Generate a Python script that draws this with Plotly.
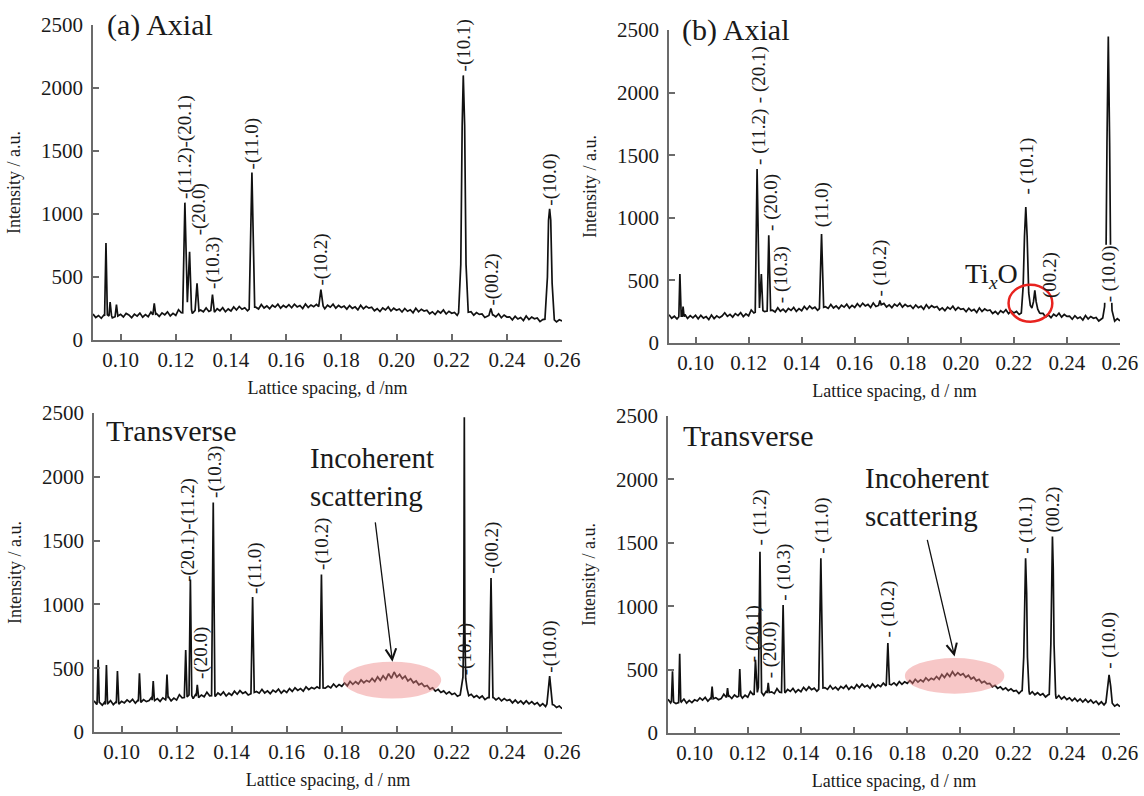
import numpy as np
import plotly.graph_objects as go

# ---------------- data ----------------
# background sampling grid (lattice spacing, nm)
D_GRID = np.round(0.090 + 0.001 * np.arange(171), 3)

BG_A = [206, 178, 194, 172, 200, 184, 208, 176, 198, 180, 204,
        183, 211, 199, 177, 205, 189, 213, 181, 201, 185,
        221, 193, 209, 187, 215, 199, 223, 191, 211, 195,
        240, 216, 244, 222, 234, 210, 246, 218, 238, 224,
        254, 226, 242, 220, 248, 232, 256, 224, 246, 230,
        262, 238, 266, 244, 256, 232, 268, 240, 260, 246,
        282, 254, 270, 248, 276, 260, 284, 252, 274, 258,
        280, 256, 284, 262, 274, 250, 286, 258, 278, 264,
        282, 254, 270, 248, 276, 260, 284, 252, 274, 258,
        269, 245, 273, 251, 263, 239, 275, 247, 267, 253,
        260, 232, 248, 226, 254, 238, 262, 230, 252, 236,
        246, 222, 250, 228, 240, 216, 252, 224, 244, 230,
        236, 208, 224, 202, 230, 214, 238, 206, 228, 212,
        219, 195, 223, 201, 213, 189, 225, 197, 217, 203,
        206, 178, 194, 172, 200, 184, 208, 176, 198, 182,
        184, 160, 188, 166, 178, 154, 190, 162, 182, 168,
        174, 146, 162, 140, 168, 152, 176, 144, 160, 150]

BG_B = [226, 198, 214, 192, 220, 204, 228, 196, 218, 200, 222,
        193, 221, 199, 211, 187, 223, 195, 217, 201, 215,
        241, 213, 229, 207, 235, 219, 243, 211, 233, 217,
        264, 240, 268, 246, 258, 234, 270, 242, 262, 248,
        282, 254, 270, 248, 276, 260, 284, 252, 274, 258,
        292, 268, 296, 274, 286, 262, 298, 270, 290, 276,
        308, 280, 296, 274, 302, 286, 310, 278, 300, 284,
        314, 290, 318, 296, 308, 284, 320, 292, 312, 298,
        316, 288, 304, 282, 310, 294, 318, 286, 308, 292,
        300, 276, 304, 282, 294, 270, 306, 278, 298, 284,
        292, 264, 280, 258, 286, 270, 294, 262, 284, 268,
        274, 250, 278, 256, 268, 244, 280, 252, 272, 258,
        264, 236, 252, 230, 258, 242, 266, 234, 256, 240,
        252, 228, 256, 234, 246, 222, 258, 230, 250, 236,
        236, 208, 224, 202, 230, 214, 238, 206, 228, 212,
        214, 190, 218, 196, 208, 184, 220, 192, 212, 198,
        204, 176, 192, 170, 198, 182, 206, 174, 194, 176]

BG_C = [244, 216, 232, 210, 238, 222, 246, 214, 236, 218, 240,
        228, 252, 234, 256, 226, 250, 232, 254, 238, 246,
        274, 246, 262, 240, 268, 252, 276, 244, 266, 250,
        292, 268, 296, 274, 286, 262, 298, 270, 290, 276,
        312, 284, 300, 278, 306, 290, 314, 282, 304, 288,
        320, 296, 324, 302, 314, 290, 326, 298, 318, 304,
        334, 306, 322, 300, 328, 312, 336, 304, 326, 310,
        340, 318, 346, 326, 340, 320, 354, 332, 348, 338,
        354, 336, 366, 344, 360, 346, 376, 352, 372, 358,
        384, 362, 396, 374, 394, 376, 408, 386, 404, 392,
        420, 396, 432, 404, 440, 412, 458, 420, 470, 430,
        452, 418, 438, 400, 418, 386, 400, 370, 382, 356,
        364, 336, 346, 320, 334, 310, 322, 298, 314, 294,
        304, 280, 300, 276, 292, 268, 296, 272, 286, 266,
        282, 254, 270, 248, 272, 252, 268, 244, 262, 246,
        254, 228, 250, 226, 244, 220, 244, 220, 238, 216,
        230, 204, 222, 200, 218, 196, 212, 192, 204, 182]

BG_D = [266, 238, 254, 232, 260, 244, 268, 236, 258, 240, 262,
        253, 277, 259, 281, 251, 275, 257, 279, 263, 271,
        306, 278, 294, 272, 300, 284, 308, 276, 298, 282,
        327, 303, 331, 309, 321, 297, 333, 305, 325, 311,
        350, 322, 338, 316, 344, 328, 352, 320, 342, 326,
        360, 336, 364, 342, 354, 330, 366, 338, 358, 344,
        374, 346, 362, 340, 368, 352, 376, 344, 366, 350,
        382, 358, 386, 364, 376, 352, 388, 360, 380, 366,
        394, 372, 400, 380, 396, 376, 406, 384, 404, 392,
        414, 392, 424, 402, 420, 404, 436, 414, 432, 420,
        446, 424, 462, 438, 470, 446, 484, 452, 476, 456,
        468, 440, 456, 426, 440, 412, 424, 396, 408, 388,
        392, 364, 376, 352, 364, 342, 356, 334, 348, 330,
        336, 312, 334, 310, 326, 304, 326, 302, 318, 298,
        310, 284, 302, 278, 298, 272, 296, 268, 286, 264,
        278, 254, 274, 250, 268, 244, 266, 242, 260, 236,
        252, 226, 246, 222, 240, 216, 236, 212, 226, 208]

# peak profiles: lists of (d, intensity)
PEAKS_A = [
    [(0.0942, 190), (0.0947, 770), (0.0952, 200)],
    [(0.0958, 190), (0.0962, 300), (0.0967, 195)],
    [(0.0980, 185), (0.0985, 280), (0.0990, 190)],
    [(0.1117, 200), (0.1122, 290), (0.1127, 205)],
    [(0.1225, 215), (0.1233, 1090), (0.1242, 300), (0.1250, 700), (0.1257, 240)],
    [(0.1270, 235), (0.1277, 450), (0.1284, 230)],
    [(0.1327, 235), (0.1333, 360), (0.1339, 235)],
    [(0.1466, 245), (0.1476, 1330), (0.1486, 260)],
    [(0.1718, 265), (0.1726, 400), (0.1734, 270)],
    [(0.2225, 215), (0.2233, 600), (0.2238, 1700), (0.2242, 2100), (0.2247, 1700), (0.2252, 600), (0.2260, 220)],
    [(0.2335, 195), (0.2342, 250), (0.2349, 195)],
    [(0.2538, 165), (0.2547, 500), (0.2551, 950), (0.2555, 1040), (0.2559, 950), (0.2564, 450), (0.2572, 160)],
]

PEAKS_B = [
    [(0.0937, 210), (0.0941, 550), (0.0946, 215)],
    [(0.0950, 215), (0.0953, 290), (0.0957, 210)],
    [(0.1225, 245), (0.1232, 1390), (0.1241, 280), (0.1248, 550), (0.1254, 260), (0.1260, 250)],
    [(0.1270, 255), (0.1276, 860), (0.1283, 260)],
    [(0.1467, 275), (0.1475, 870), (0.1483, 285)],
    [(0.1690, 300), (0.1695, 340), (0.1700, 305)],
    [(0.2228, 240), (0.2235, 450), (0.2240, 850), (0.2245, 1086), (0.2250, 850), (0.2256, 400),
     (0.2262, 300), (0.2268, 280), (0.2274, 330), (0.2279, 420), (0.2284, 330), (0.2290, 270), (0.2297, 240)],
    [(0.2535, 200), (0.2542, 290), (0.2547, 600), (0.2551, 1600), (0.2556, 2448), (0.2561, 1600),
     (0.2565, 600), (0.2570, 260), (0.2576, 190)],
]

PEAKS_C = [
    [(0.0911, 225), (0.0915, 565), (0.0919, 230)],
    [(0.0941, 215), (0.0945, 525), (0.0949, 225)],
    [(0.0981, 225), (0.0985, 478), (0.0989, 230)],
    [(0.1061, 240), (0.1065, 460), (0.1069, 245)],
    [(0.1111, 250), (0.1115, 400), (0.1119, 255)],
    [(0.1161, 260), (0.1165, 450), (0.1169, 265)],
    [(0.1228, 270), (0.1233, 643), (0.1238, 275), (0.1245, 290), (0.1250, 1194), (0.1255, 285)],
    [(0.1271, 280), (0.1275, 370), (0.1279, 285)],
    [(0.1327, 285), (0.1333, 1798), (0.1339, 290)],
    [(0.1470, 300), (0.1476, 1058), (0.1482, 310)],
    [(0.1720, 340), (0.1726, 1234), (0.1732, 345)],
    [(0.2230, 290), (0.2236, 360), (0.2240, 430), (0.2243, 800), (0.2245, 2467), (0.2247, 800),
     (0.2250, 420), (0.2255, 340), (0.2261, 285)],
    [(0.2335, 270), (0.2342, 1207), (0.2349, 265)],
    [(0.2545, 220), (0.2551, 350), (0.2555, 438), (0.2559, 350), (0.2565, 215)],
]

PEAKS_D = [
    [(0.0913, 250), (0.0917, 486), (0.0921, 245)],
    [(0.0940, 240), (0.0944, 625), (0.0948, 250)],
    [(0.1062, 265), (0.1066, 367), (0.1070, 270)],
    [(0.1120, 280), (0.1124, 355), (0.1128, 285)],
    [(0.1166, 290), (0.1170, 505), (0.1174, 295)],
    [(0.1224, 305), (0.1229, 577), (0.1236, 320), (0.1240, 360), (0.1246, 1430), (0.1252, 320)],
    [(0.1273, 315), (0.1277, 395), (0.1281, 320)],
    [(0.1327, 320), (0.1333, 1010), (0.1339, 330)],
    [(0.1467, 345), (0.1475, 1378), (0.1483, 355)],
    [(0.1721, 380), (0.1727, 709), (0.1733, 385)],
    [(0.2232, 330), (0.2238, 600), (0.2241, 1100), (0.2245, 1378), (0.2249, 1100), (0.2252, 600), (0.2258, 330)],
    [(0.2334, 305), (0.2340, 700), (0.2343, 1300), (0.2346, 1549), (0.2349, 1300), (0.2352, 700), (0.2358, 300)],
    [(0.2547, 240), (0.2553, 380), (0.2559, 459), (0.2565, 370), (0.2571, 235)],
]

# peak labels: (text, d, intensity at bottom of label)
LABELS_A = [("-(11.2)-(20.1)", 0.1233, 1110), ("-(20.0)", 0.1283, 820), ("-(10.3)", 0.1334, 395),
            ("-(11.0)", 0.1476, 1345), ("-(10.2)", 0.1727, 425), ("-(10.1)", 0.2243, 2120),
            ("-(00.2)", 0.2346, 265), ("-(10.0)", 0.2555, 1055)]
LABELS_B = [("- (11.2)", 0.1239, 1414), ("- (20.1)", 0.1239, 1911), ("- (20.0)", 0.1284, 890),
            ("- (10.3)", 0.1322, 314), ("(11.0)", 0.1475, 916), ("- (10.2)", 0.1695, 366),
            ("- (10.1)", 0.2248, 1178), ("(00.2)", 0.2337, 353), ("- (10.0)", 0.2559, 314)]
LABELS_C = [("-(20.1)-(11.2)", 0.1241, 1168), ("-(20.0)", 0.1288, 407), ("-(10.3)", 0.1342, 1824),
            ("-(11.0)", 0.1482, 1076), ("-(10.2)", 0.1727, 1260), ("-(10.1)", 0.2248, 438),
            ("-(00.2)", 0.2343, 1234), ("-(10.0)", 0.2557, 459)]
LABELS_D = [("- (20.1)", 0.1218, 551), ("- (11.2)", 0.1246, 1470), ("- (20.0)", 0.1284, 420),
            ("- (10.3)", 0.1335, 1037), ("- (11.0)", 0.1478, 1404), ("- (10.2)", 0.1727, 748),
            ("- (10.1)", 0.2248, 1404), ("(00.2)", 0.2349, 1575), ("- (10.0)", 0.2561, 499)]

X_TITLES = ["Lattice spacing, d /nm", "Lattice spacing, d / nm",
            "Lattice spacing, d / nm", "Lattice spacing, d / nm"]
Y_TITLE = "Intensity / a.u."
X_RANGE = [0.09, 0.26]
Y_RANGE = [0, 2500]

# ---------------- build ----------------
FONT = "Liberation Serif"
TXT = "#1a1a1a"
AX = "#6b6b6b"


def build(bg, peaks):
    keep = np.ones(len(D_GRID), bool)
    for pk in peaks:
        lo, hi = pk[0][0], pk[-1][0]
        keep &= ~((D_GRID >= lo) & (D_GRID <= hi))
    pts = [(float(x), float(y)) for x, y, k in zip(D_GRID, bg, keep) if k]
    pts += [p for pk in peaks for p in pk]
    pts.sort()
    return [p[0] for p in pts], [p[1] for p in pts]


domains = {
    1: ([0.0813, 0.4913], [0.5729, 0.9686]),
    2: ([0.5848, 0.9790], [0.5691, 0.9623]),
    3: ([0.0822, 0.4913], [0.0804, 0.4812]),
    4: ([0.5839, 0.9790], [0.0791, 0.4774]),
}

fig = go.Figure()
panels = [(BG_A, PEAKS_A, LABELS_A), (BG_B, PEAKS_B, LABELS_B),
          (BG_C, PEAKS_C, LABELS_C), (BG_D, PEAKS_D, LABELS_D)]

annotations = []
layout = {}
for k, (bg, pk, labels) in enumerate(panels, start=1):
    xs, ys = build(bg, pk)
    suf = "" if k == 1 else str(k)
    fig.add_trace(go.Scatter(x=xs, y=ys, mode="lines", xaxis="x" + suf, yaxis="y" + suf,
                             line=dict(color="#111111", width=1.7), showlegend=False,
                             hoverinfo="skip"))
    xd, yd = domains[k]
    layout["xaxis" + suf] = dict(
        domain=xd, anchor="y" + suf, range=X_RANGE, automargin=False,
        tickvals=[0.10, 0.12, 0.14, 0.16, 0.18, 0.20, 0.22, 0.24, 0.26],
        tickformat=".2f", ticks="inside", ticklen=6, tickwidth=1.5, tickcolor=AX,
        showline=True, linecolor=AX, linewidth=1.5, showgrid=False, zeroline=False,
        tickfont=dict(family=FONT, size=21, color=TXT),
        title=dict(text=X_TITLES[k - 1], font=dict(family=FONT, size=18, color=TXT), standoff=10))
    layout["yaxis" + suf] = dict(
        domain=yd, anchor="x" + suf, range=Y_RANGE, automargin=False,
        tickvals=[0, 500, 1000, 1500, 2000, 2500],
        ticks="inside", ticklen=6, tickwidth=1.5, tickcolor=AX,
        showline=True, linecolor=AX, linewidth=1.5, showgrid=False, zeroline=False,
        tickfont=dict(family=FONT, size=21, color=TXT), ticklabelstandoff=4,
        title=dict(text=Y_TITLE, font=dict(family=FONT, size=18, color=TXT), standoff=16))
    for text, d, yb in labels:
        a = dict(x=d, y=yb, xref="x" + suf, yref="y" + suf, text=text, textangle=-90,
                 showarrow=False, xanchor="center", yanchor="bottom", borderpad=0,
                 font=dict(family=FONT, size=19, color=TXT))
        if k == 2 and text == "- (10.0)":
            a["bgcolor"] = "white"
        annotations.append(a)

big = dict(family=FONT, size=30, color=TXT)
annotations += [
    dict(x=0.0943, y=2500, xref="x", yref="y", text="(a) Axial", showarrow=False,
         xanchor="left", yanchor="middle", font=big),
    dict(x=0.0940, y=2500, xref="x2", yref="y2", text="(b) Axial", showarrow=False,
         xanchor="left", yanchor="middle", font=big),
    dict(x=0.2117, y=537, xref="x2", yref="y2", text="Ti<sub><i>x</i></sub>O", showarrow=False,
         xanchor="center", yanchor="middle", font=dict(family=FONT, size=28, color=TXT)),
    dict(x=0.0935, y=2362, xref="x3", yref="y3", text="Transverse", showarrow=False,
         xanchor="left", yanchor="middle", font=big),
    dict(x=0.0950, y=2349, xref="x4", yref="y4", text="Transverse", showarrow=False,
         xanchor="left", yanchor="middle", font=big),
    dict(x=0.1676, y=1995, xref="x3", yref="y3", text="Incoherent<br>scattering", showarrow=False,
         xanchor="left", yanchor="middle", align="left", font=dict(family=FONT, size=29, color=TXT)),
    dict(x=0.1633, y=1863, xref="x4", yref="y4", text="Incoherent<br>scattering", showarrow=False,
         xanchor="left", yanchor="middle", align="left", font=dict(family=FONT, size=29, color=TXT)),
    dict(x=0.1984, y=551, ax=0.1921, ay=1654, xref="x3", yref="y3", axref="x3", ayref="y3",
         text="", showarrow=True, arrowhead=5, arrowsize=1.6, arrowwidth=1.3, arrowcolor="#111"),
    dict(x=0.1978, y=604, ax=0.1874, ay=1535, xref="x4", yref="y4", axref="x4", ayref="y4",
         text="", showarrow=True, arrowhead=5, arrowsize=1.6, arrowwidth=1.3, arrowcolor="#111"),
]

shapes = [
    dict(type="circle", xref="x3", yref="y3", x0=0.1804, x1=0.2161, y0=262, y1=551,
         fillcolor="rgba(238,130,130,0.45)", line=dict(width=0), layer="above"),
    dict(type="circle", xref="x4", yref="y4", x0=0.1791, x1=0.2165, y0=310, y1=591,
         fillcolor="rgba(238,130,130,0.45)", line=dict(width=0), layer="above"),
    dict(type="circle", xref="x2", yref="y2", x0=0.2180, x1=0.2345, y0=170, y1=466,
         line=dict(color="#e8231f", width=2.5)),
]

fig.update_layout(width=1144, height=796, margin=dict(l=0, r=0, t=0, b=0),
                  paper_bgcolor="white", plot_bgcolor="white",
                  annotations=annotations, shapes=shapes, **layout)

fig.write_html("out.html", config={"displayModeBar": False},
               post_script="document.body.style.margin='0';document.body.style.overflow='hidden';")
